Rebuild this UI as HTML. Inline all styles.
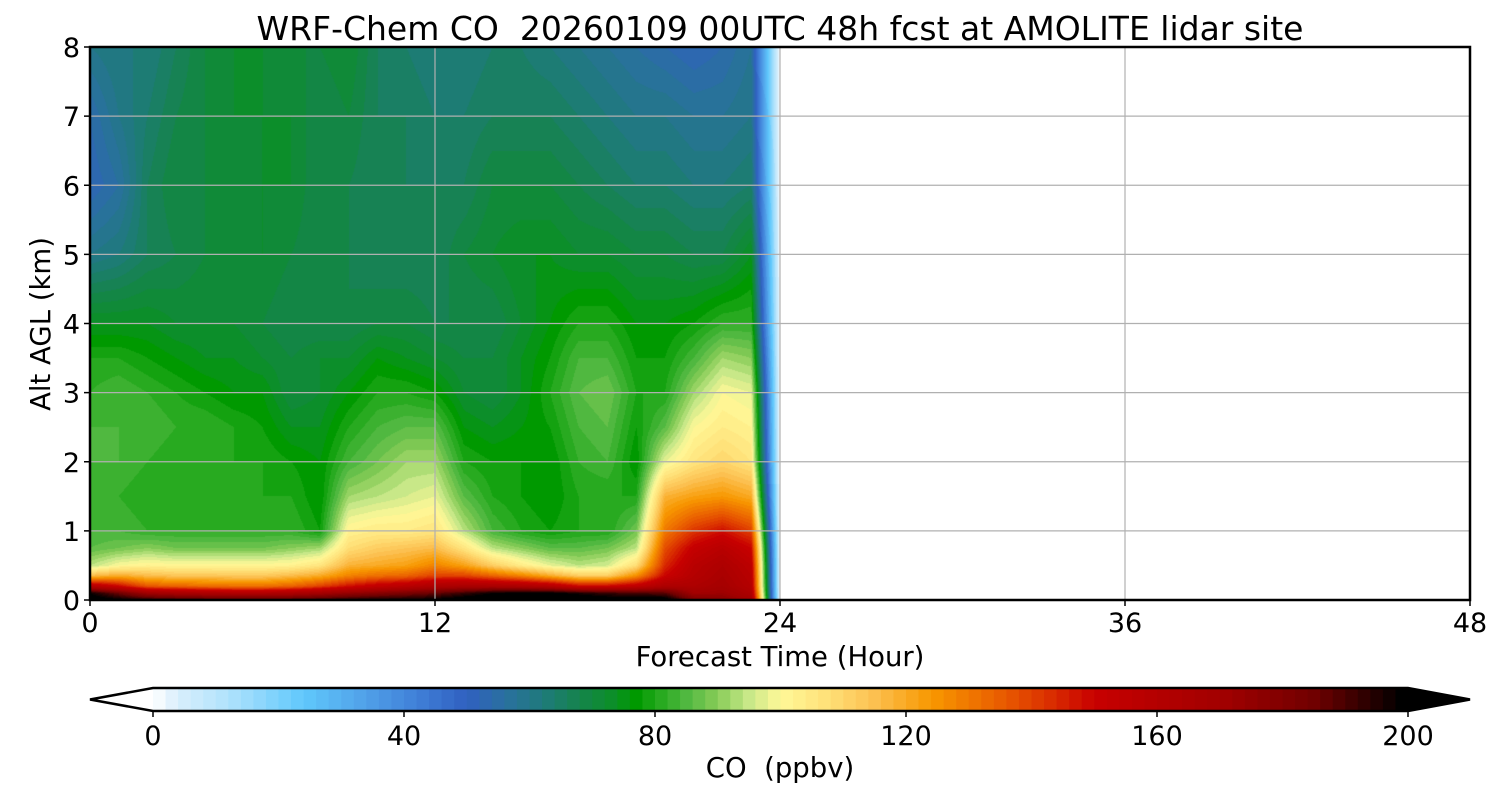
<!DOCTYPE html>
<html><head><meta charset="utf-8">
<style>
html,body{margin:0;padding:0;background:#fff;}
#wrap{position:relative;width:1500px;height:800px;overflow:hidden;font-family:"DejaVu Sans","Liberation Sans",sans-serif;}
#heat{position:absolute;left:90px;top:47px;}
#ov{position:absolute;left:0;top:0;}
text{white-space:pre;}
</style></head>
<body>
<div id="wrap">
<canvas id="heat" width="1380" height="553"></canvas>
<svg id="ov" width="1500" height="800" xmlns="http://www.w3.org/2000/svg"></svg>
</div>
<script>
const times = [0,1,2,3,4,5,6,7,8,9,10,11,12,13,14,15,16,17,18,19,20,21,22,23,24];
const alts = [0,0.1,0.2,0.35,0.5,0.75,1,1.5,2,2.5,3,3.5,4,5,6,7,8];
const co = [
[204,198,160,116,94,86,84,84,84,84,82,80,74,60,52,54,60],
[200,185,150,120,100,88,84,82,84,84,84,80,74,62,56,60,62],
[196,170,136,116,102,90,82,80,82,84,82,78,74,66,66,64,62],
[194,166,134,114,101,88,82,80,80,82,80,76,72,68,70,68,66],
[192,164,132,114,101,88,82,80,80,82,78,74,72,70,70,70,70],
[192,162,131,113,101,88,82,80,80,80,76,74,72,70,70,72,72],
[192,162,131,113,101,88,82,80,80,78,76,72,70,72,72,72,72],
[192,164,134,116,102,90,82,80,78,74,70,70,68,70,72,72,70],
[194,168,140,120,106,92,78,76,76,74,72,72,68,68,68,68,70],
[196,174,148,128,118,108,102,92,84,80,76,72,68,68,68,70,72],
[198,178,154,132,120,112,104,94,88,84,80,76,70,66,66,66,66],
[198,182,158,134,122,114,104,96,92,86,80,74,70,66,66,66,64],
[200,186,164,140,128,116,106,98,92,86,78,72,68,66,66,64,62],
[204,192,166,140,122,106,94,86,80,76,72,70,68,70,66,64,62],
[206,198,166,134,112,94,84,80,78,74,70,70,68,72,70,66,64],
[206,200,164,128,104,90,80,78,78,76,74,74,72,74,70,66,64],
[206,200,160,120,98,86,78,76,76,78,80,78,76,74,70,66,62],
[206,196,150,112,94,86,80,80,82,84,86,84,80,72,68,64,60],
[204,192,150,112,96,88,80,80,84,86,88,84,80,72,66,62,58],
[204,190,155,126,108,94,88,80,76,78,80,78,76,70,64,60,56],
[204,188,164,150,144,138,130,118,98,86,80,78,76,70,64,60,54],
[182,170,164,160,158,152,142,122,106,100,92,84,78,68,62,58,52],
[178,172,168,166,164,158,148,124,110,104,100,92,82,68,62,58,54],
[170,164,160,158,156,150,140,120,106,102,98,90,82,74,64,60,58],
[0,0,0,0,0,0,0,0,0,0,0,0,0,0,0,0,0]
];
const xTicks = [0,12,24,36,48];
const yTicks = [0,1,2,3,4,5,6,7,8];
const cbTicks = [0,40,80,120,160,200];
const cmapStops = [[0,"#ffffff"],[4,"#d8eefc"],[12,"#b0e2fc"],[24,"#60c8fc"],[34,"#50a0e8"],[42,"#4080d8"],[50,"#3060c0"],[56,"#2a70a0"],[62,"#1f7a7c"],[68,"#15844c"],[73,"#0c8e2a"],[77,"#009900"],[81,"#28aa20"],[85,"#50b840"],[90,"#88cc58"],[95,"#c8e888"],[100,"#fff898"],[107,"#ffe27a"],[115,"#fcc050"],[124,"#f89800"],[130,"#f07800"],[136,"#e85800"],[144,"#d82800"],[150,"#c80000"],[160,"#b40000"],[171,"#a00000"],[185,"#700000"],[192,"#380000"],[199,"#000000"]];

const X0=90,X1=1470,Y0=600,Y1=47;
const xs=t=>X0+(t/48)*(X1-X0);
const ys=h=>Y0-(h/8)*(Y0-Y1);
function hex(c){return [parseInt(c.substr(1,2),16),parseInt(c.substr(3,2),16),parseInt(c.substr(5,2),16)];}
const stops=cmapStops.map(s=>[s[0],hex(s[1])]);
function cmap(v){
  if(v<=stops[0][0])return stops[0][1];
  for(let i=1;i<stops.length;i++){if(v<=stops[i][0]){const a=stops[i-1],b=stops[i];const f=(v-a[0])/(b[0]-a[0]);return [0,1,2].map(k=>Math.round(a[1][k]+f*(b[1][k]-a[1][k])));}}
  return stops[stops.length-1][1];
}
const STEP=2;
function levelColor(v){if(v>=200)return [0,0,0];const q=Math.floor(v/STEP)*STEP+STEP/2;return cmap(q);}
function interp(arr,val){
  for(let i=1;i<arr.length;i++){if(val<=arr[i])return [i-1,(val-arr[i-1])/(arr[i]-arr[i-1])];}
  return [arr.length-2,1];
}
const cv=document.getElementById('heat'),ctx=cv.getContext('2d');
const W=cv.width,H=cv.height,img=ctx.createImageData(W,H);
const tMax=times[times.length-1];
for(let py=0;py<H;py++){
  const h=(H-0.5-py)/H*8;const [ai,af]=interp(alts,Math.max(0,h));
  for(let px=0;px<W;px++){
    const t=(px+0.5)/W*48;const o=(py*W+px)*4;
    if(t>tMax){img.data[o]=255;img.data[o+1]=255;img.data[o+2]=255;img.data[o+3]=255;continue;}
    const [ti,tf]=interp(times,t);
    const v=(1-tf)*((1-af)*co[ti][ai]+af*co[ti][ai+1])+tf*((1-af)*co[ti+1][ai]+af*co[ti+1][ai+1]);
    const c=levelColor(v);
    img.data[o]=c[0];img.data[o+1]=c[1];img.data[o+2]=c[2];img.data[o+3]=255;
  }
}
ctx.putImageData(img,0,0);

const svg=document.getElementById('ov');const NS="http://www.w3.org/2000/svg";
function mk(tag,attrs,parent){const e=document.createElementNS(NS,tag);for(const k in attrs)e.setAttribute(k,attrs[k]);(parent||svg).appendChild(e);return e;}
const grid=mk('g',{});


yTicks.forEach(v=>{if(v>0&&v<8){mk('line',{x1:X0,x2:X1,y1:ys(v),y2:ys(v),stroke:'#b0b0b0','stroke-width':1.2},grid);}});
xTicks.forEach(v=>{if(v>0&&v<48){mk('line',{x1:xs(v),x2:xs(v),y1:Y1,y2:Y0,stroke:'#b0b0b0','stroke-width':1.2},grid);}});
const fr=mk('rect',{x:X0,y:Y1,width:X1-X0,height:Y0-Y1,fill:'none',stroke:'#000','stroke-width':2.5});


xTicks.forEach(v=>{
  mk('line',{x1:xs(v),x2:xs(v),y1:Y0,y2:Y0+6,stroke:'#000','stroke-width':1.5});
  const t=mk('text',{x:xs(v),y:Y0+32,'font-size':27,'text-anchor':'middle',fill:'#000'});t.textContent=v;
  
  
});
yTicks.forEach(v=>{
  mk('line',{x1:X0-6,x2:X0,y1:ys(v),y2:ys(v),stroke:'#000','stroke-width':1.5});
  const t=mk('text',{x:X0-10,y:ys(v)+10,'font-size':27,'text-anchor':'end',fill:'#000'});t.textContent=v;
  
  
});
const title=mk('text',{x:780,y:40,'font-size':33,'text-anchor':'middle',fill:'#000'});
title.textContent='WRF-Chem CO  20260109 00UTC 48h fcst at AMOLITE lidar site';


const xl=mk('text',{x:780,y:666,'font-size':27.5,'text-anchor':'middle',fill:'#000'});
xl.textContent='Forecast Time (Hour)';


const yl=mk('text',{x:0,y:0,'font-size':27.5,'text-anchor':'middle',fill:'#000',transform:'translate(50,324) rotate(-90)'});
yl.textContent='Alt AGL (km)';


const CB0=153,CB1=1408,CBT=688,CBB=711;
const cbx=v=>CB0+(v/200)*(CB1-CB0);
const cb=mk('g',{});


for(let v=0;v<200;v+=STEP){
  const c=cmap(v+STEP/2);
  mk('rect',{x:cbx(v),y:CBT,width:cbx(v+STEP)-cbx(v)+0.6,height:CBB-CBT,fill:`rgb(${c[0]},${c[1]},${c[2]})`},cb);
}
mk('polygon',{points:`${CB0},${CBT} 90,${(CBT+CBB)/2} ${CB0},${CBB}`,fill:'#fff'},cb);
mk('polygon',{points:`${CB1},${CBT} 1470,${(CBT+CBB)/2} ${CB1},${CBB}`,fill:'#000'},cb);
mk('polygon',{points:`${CB0},${CBT} ${CB1},${CBT} 1470,${(CBT+CBB)/2} ${CB1},${CBB} ${CB0},${CBB} 90,${(CBT+CBB)/2}`,fill:'none',stroke:'#000','stroke-width':2.5},cb);
cbTicks.forEach(v=>{
  mk('line',{x1:cbx(v),x2:cbx(v),y1:CBB,y2:CBB+6,stroke:'#000','stroke-width':1.5},cb);
  const t=mk('text',{x:cbx(v),y:745,'font-size':27,'text-anchor':'middle',fill:'#000'},cb);t.textContent=v;
  
  
});
const cl=mk('text',{x:780,y:777,'font-size':27.5,'text-anchor':'middle',fill:'#000'});
cl.textContent='CO  (ppbv)';


</script>
</body></html>
